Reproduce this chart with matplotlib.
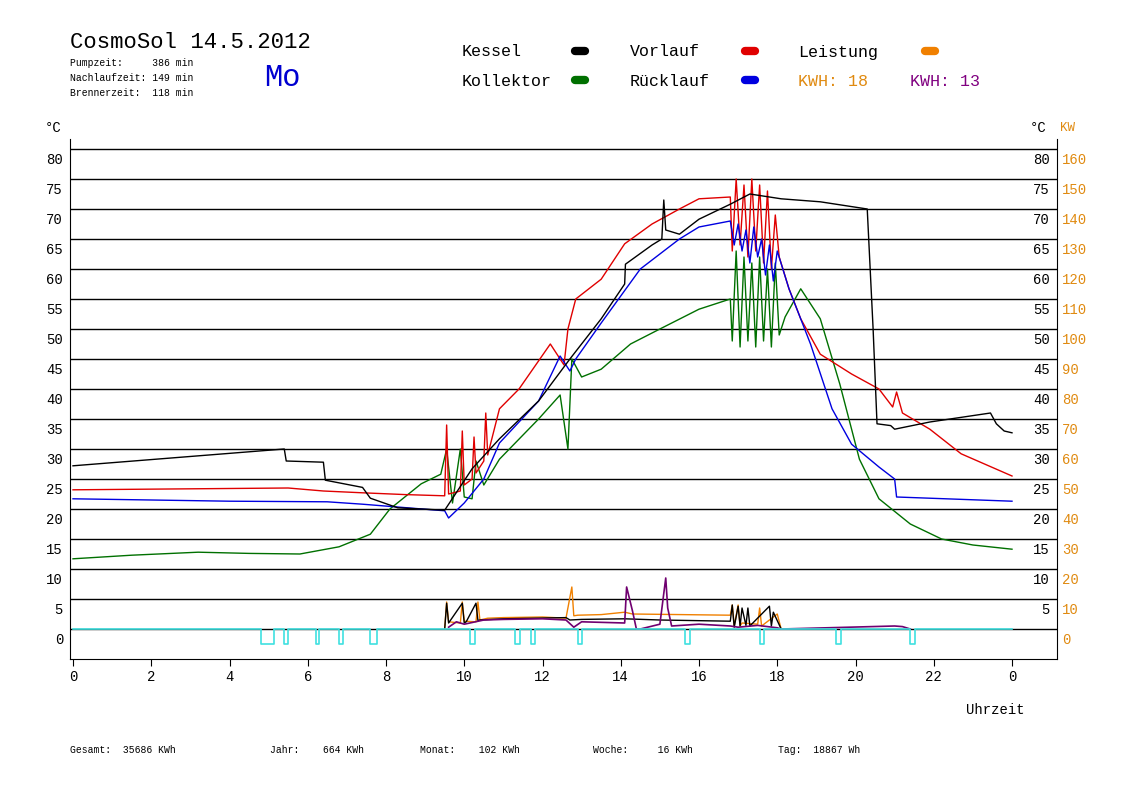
import matplotlib
matplotlib.use("Agg")
import matplotlib.pyplot as plt
from matplotlib.lines import Line2D

# ---------------- data (hours, °C) ----------------
kessel_h = [0, 5.4, 5.45, 6.4, 6.45, 7.4, 7.6, 8.3, 9.5, 10.2, 10.9, 11.9, 12.7, 13.5, 14.1, 14.12, 14.8, 15.05, 15.1, 15.15, 15.5, 16.0, 16.8, 17.3, 18.1, 19.1, 20.3, 20.45, 20.55, 20.9, 21.0, 21.9, 23.45, 23.6, 23.8, 24.0]
kessel_v = [27.2, 30.0, 28.0, 27.8, 24.8, 23.6, 21.8, 20.2, 19.8, 26.7, 31.7, 38.0, 45.0, 51.7, 57.5, 60.8, 64.0, 65.0, 71.5, 66.5, 65.8, 68.3, 70.8, 72.5, 71.7, 71.2, 70.0, 50.0, 34.2, 33.9, 33.3, 34.5, 36.0, 34.2, 33.0, 32.7]

vorlauf_h = [0, 5.5, 6.4, 7.4, 8.5, 9.5, 9.55, 9.6, 9.9, 9.95, 10.0, 10.2, 10.25, 10.3, 10.5, 10.55, 10.6, 10.9, 11.4, 12.2, 12.55, 12.65, 12.85, 13.5, 14.1, 14.8, 15.5, 16.0, 16.8, 16.85, 16.95, 17.05, 17.15, 17.25, 17.35, 17.45, 17.55, 17.65, 17.75, 17.85, 17.95, 18.05, 18.3, 18.6, 19.1, 19.9, 20.6, 20.95, 21.05, 21.2, 21.9, 22.7, 24.0]
vorlauf_v = [23.2, 23.5, 23.0, 22.7, 22.4, 22.2, 34.0, 22.5, 23.0, 33.0, 24.0, 25.0, 32.0, 26.0, 28.0, 36.0, 29.0, 36.7, 40.0, 47.5, 44.0, 50.0, 55.0, 58.3, 64.2, 67.5, 70.0, 71.7, 72.0, 63.0, 75.0, 64.0, 74.0, 62.0, 75.0, 63.0, 74.0, 61.0, 73.0, 60.0, 69.0, 62.0, 56.7, 51.7, 45.8, 42.5, 40.0, 37.0, 39.5, 36.0, 33.3, 29.2, 25.5]

ruecklauf_h = [0, 4.0, 6.5, 7.4, 9.5, 9.6, 10.0, 10.5, 10.9, 11.9, 12.45, 12.7, 12.85, 13.5, 14.5, 15.5, 16.0, 16.8, 16.9, 17.0, 17.1, 17.2, 17.3, 17.4, 17.5, 17.6, 17.7, 17.8, 17.9, 18.0, 18.3, 18.85, 19.4, 19.9, 20.6, 21.0, 21.05, 24.0]
ruecklauf_v = [21.7, 21.3, 21.2, 20.8, 19.7, 18.5, 21.0, 25.0, 31.0, 38.0, 45.5, 43.0, 45.0, 51.0, 60.0, 65.0, 67.0, 68.0, 64.0, 67.5, 63.0, 66.5, 61.0, 67.0, 62.0, 65.0, 59.0, 64.0, 58.0, 63.0, 56.7, 47.5, 36.7, 30.8, 27.0, 25.0, 22.0, 21.3]

kollektor_h = [0, 1.5, 3.2, 4.5, 5.8, 6.8, 7.6, 8.1, 8.9, 9.4, 9.55, 9.7, 9.9, 10.0, 10.2, 10.3, 10.5, 10.9, 11.9, 12.45, 12.65, 12.75, 13.0, 13.5, 14.25, 15.0, 16.0, 16.8, 16.85, 16.95, 17.05, 17.15, 17.25, 17.35, 17.45, 17.55, 17.65, 17.75, 17.85, 17.95, 18.05, 18.2, 18.6, 19.1, 19.6, 20.1, 20.6, 21.4, 22.2, 23.0, 24.0]
kollektor_v = [11.7, 12.3, 12.8, 12.6, 12.5, 13.7, 15.8, 20.0, 24.2, 25.8, 30.0, 21.0, 30.0, 22.0, 21.7, 28.0, 24.0, 28.3, 35.0, 39.0, 30.0, 45.0, 42.0, 43.3, 47.5, 50.0, 53.3, 55.0, 48.0, 63.0, 47.0, 62.0, 48.0, 61.0, 47.0, 62.0, 48.0, 60.0, 47.0, 61.0, 49.0, 52.0, 56.7, 51.7, 40.8, 28.3, 21.7, 17.5, 15.0, 14.0, 13.3]

leistung_h = [9.5, 9.55, 9.6, 9.9, 9.95, 10.0, 10.3, 10.35, 10.4, 10.6, 11.0, 12.0, 12.6, 12.75, 12.8, 12.9, 13.5, 14.1, 14.3, 16.8, 16.85, 16.9, 17.0, 17.05, 17.1, 17.5, 17.55, 17.6, 18.0, 18.1]
leistung_v = [0.0, 4.5, 1.2, 1.0, 4.5, 1.3, 1.2, 4.5, 1.5, 1.8, 1.9, 2.0, 1.8, 7.0, 2.2, 2.3, 2.4, 2.8, 2.5, 2.3, 4.0, 0.5, 4.0, 0.5, 1.0, 0.8, 3.5, 0.5, 2.5, 0.0]

kessel_p_h = [9.5, 9.55, 9.6, 9.95, 10.0, 10.05, 10.3, 10.35, 10.4, 11.0, 12.6, 12.7, 13.0, 14.1, 15.0, 16.8, 16.85, 16.9, 17.0, 17.05, 17.1, 17.2, 17.25, 17.3, 17.8, 17.85, 17.9, 18.1]
kessel_p_v = [0.0, 4.3, 1.0, 4.3, 1.0, 1.2, 4.3, 1.4, 1.5, 1.7, 1.9, 1.5, 1.6, 1.7, 1.5, 1.3, 4.0, 0.3, 3.8, 0.5, 3.5, 0.6, 3.5, 0.5, 3.8, 0.5, 2.8, 0.0]

purple_h = [9.6, 9.8, 10.0, 10.5, 11.0, 12.0, 12.6, 12.8, 13.0, 14.1, 14.15, 14.3, 14.4, 14.5, 15.0, 15.15, 15.2, 15.3, 16.0, 16.8, 17.0, 17.5, 18.0, 18.1, 21.0, 21.2, 21.4]
purple_v = [0.3, 1.2, 0.8, 1.5, 1.6, 1.7, 1.5, 0.3, 1.2, 1.0, 7.0, 3.0, 0.0, 0.0, 0.8, 8.5, 3.5, 0.5, 0.8, 0.5, 0.3, 0.6, 0.2, 0.0, 0.5, 0.4, 0.0]

pump_off_h = [4.8, 5.4, 6.2, 6.8, 7.6, 10.15, 11.3, 11.7, 12.9, 15.65, 17.55, 19.5, 21.4]
pump_off_w = [0.35, 0.1, 0.1, 0.1, 0.18, 0.12, 0.12, 0.12, 0.12, 0.12, 0.12, 0.12, 0.12]

temp_ticks = list(range(0, 85, 5))
kw_ticks = list(range(0, 170, 10))
hour_ticks = list(range(0, 24, 2)) + [24]
hour_labels = [str(h) for h in range(0, 24, 2)] + ["0"]

# ---------------- figure ----------------
W, H = 1148, 812
fig = plt.figure(figsize=(W / 100, H / 100), dpi=100)
MONO = "Liberation Mono"

def px(x, y):
    return x / W, 1 - y / H

x0, x1, yt, yb = 70, 1057, 140, 660
ax = fig.add_axes([x0 / W, 1 - yb / H, (x1 - x0) / W, (yb - yt) / H])
hpp = 24 / (1012 - 73)
ax.set_xlim(-(73 - x0) * hpp, 24 + (x1 - 1012) * hpp)
ax.set_ylim(-5, 80 + (150 - yt) / 6)
for s in ["top"]:
    ax.spines[s].set_visible(False)
for s in ["left", "right", "bottom"]:
    ax.spines[s].set_linewidth(0.8)
ax.set_yticks([])
ax.set_xticks(hour_ticks)
ax.set_xticklabels(hour_labels, fontfamily=MONO, fontsize=10)
ax.tick_params(axis="x", length=5, width=0.8, pad=2)

for t in temp_ticks[1:]:
    ax.axhline(t, color="black", lw=1.0, zorder=1)
ax.axhline(0, color="black", lw=1.0, zorder=1)

# labels for left/right scales
trans_l = matplotlib.transforms.blended_transform_factory(fig.transFigure, ax.transData)
for t, k in zip(temp_ticks, kw_ticks):
    fig.text(63 / W, 0, str(t), transform=trans_l, ha="right", va="top",
             fontfamily=MONO, fontsize=10)
    ax.text(0, t, "", )
    fig.text(1050 / W, 0, str(t), transform=trans_l, ha="right", va="top",
             fontfamily=MONO, fontsize=10) if t > 0 else None
    fig.text(1062 / W, 0, str(k), transform=trans_l, ha="left", va="top",
             fontfamily=MONO, fontsize=10, color="#e08a10")
# reposition: shift labels down a bit using offsets
for t in fig.texts:
    x, y = t.get_position()
for i, t in enumerate(list(fig.texts)):
    pass

# fix y positions of labels (they were placed at y=0): rebuild properly
for t in list(fig.texts):
    t.remove()
off = matplotlib.transforms.ScaledTranslation(0, -2 / 72, fig.dpi_scale_trans)
for t, k in zip(temp_ticks, kw_ticks):
    fig.text(63 / W, t, str(t), transform=trans_l + off, ha="right", va="top",
             fontfamily=MONO, fontsize=10)
    if t > 0:
        fig.text(1050 / W, t, str(t), transform=trans_l + off, ha="right", va="top",
                 fontfamily=MONO, fontsize=10)
    fig.text(1062 / W, t, str(k), transform=trans_l + off, ha="left", va="top",
             fontfamily=MONO, fontsize=10, color="#e08a10")

# data lines
ax.plot(kollektor_h, kollektor_v, color="#007000", lw=1, zorder=3)
ax.plot(vorlauf_h, vorlauf_v, color="#e00000", lw=1, zorder=4)
ax.plot(ruecklauf_h, ruecklauf_v, color="#0000e0", lw=1, zorder=5)
ax.plot(kessel_h, kessel_v, color="black", lw=1, zorder=6)
ax.plot(leistung_h, leistung_v, color="#f08000", lw=1, zorder=4)
ax.plot(kessel_p_h, kessel_p_v, color="black", lw=1, zorder=5)
ax.plot(purple_h, purple_v, color="#700070", lw=1.2, zorder=6)

# pump line (cyan) with dips
cx, cy = [0], [0]
for h, w in zip(pump_off_h, pump_off_w):
    cx += [h, h, h + w, h + w]
    cy += [0, -2.5, -2.5, 0]
cx.append(24)
cy.append(0)
ax.plot(cx, cy, color="#40e0e0", lw=1.2, zorder=7)

# header texts
fig.text(*px(70, 42), "CosmoSol 14.5.2012", fontfamily=MONO, fontsize=16, va="center")
fig.text(*px(70, 63), "Pumpzeit:     386 min", fontfamily=MONO, fontsize=7, va="center")
fig.text(*px(70, 78), "Nachlaufzeit: 149 min", fontfamily=MONO, fontsize=7, va="center")
fig.text(*px(70, 93), "Brennerzeit:  118 min", fontfamily=MONO, fontsize=7, va="center")
fig.text(*px(264, 78), "Mo", fontfamily=MONO, fontsize=22, va="center", color="#0000d0")

leg = [("Kessel", 462, 52, "black"), ("Vorlauf", 630, 52, "#e00000"),
       ("Leistung", 798, 52, "#f08000"), ("Kollektor", 462, 81, "#007000"),
       ("Rücklauf", 630, 81, "#0000e0")]
dotx = {462: 580, 630: 750, 798: 930}
for txt, x, y, c in leg:
    fig.text(*px(x, y), txt, fontfamily=MONO, fontsize=12, va="center")
    dx = dotx[x]
    fig.add_artist(Line2D([(dx - 5) / W, (dx + 5) / W], [1 - y / H] * 2, color=c,
                          lw=6, solid_capstyle="round"))
fig.text(*px(798, 81), "KWH: 18", fontfamily=MONO, fontsize=12, va="center", color="#e08a10")
fig.text(*px(910, 81), "KWH: 13", fontfamily=MONO, fontsize=12, va="center", color="#800080")

fig.text(*px(45, 128), "°C", fontfamily=MONO, fontsize=10, va="center")
fig.text(*px(1030, 128), "°C", fontfamily=MONO, fontsize=10, va="center")
fig.text(*px(1060, 128), "KW", fontfamily=MONO, fontsize=9, va="center", color="#e08a10")
fig.text(*px(966, 710), "Uhrzeit", fontfamily=MONO, fontsize=10, va="center")

foot = [("Gesamt:  35686 KWh", 70), ("Jahr:    664 KWh", 270), ("Monat:    102 KWh", 420),
        ("Woche:     16 KWh", 593), ("Tag:  18867 Wh", 778)]
for t, x in foot:
    fig.text(*px(x, 750), t, fontfamily=MONO, fontsize=7, va="center")

fig.savefig("out.png", dpi=100)
